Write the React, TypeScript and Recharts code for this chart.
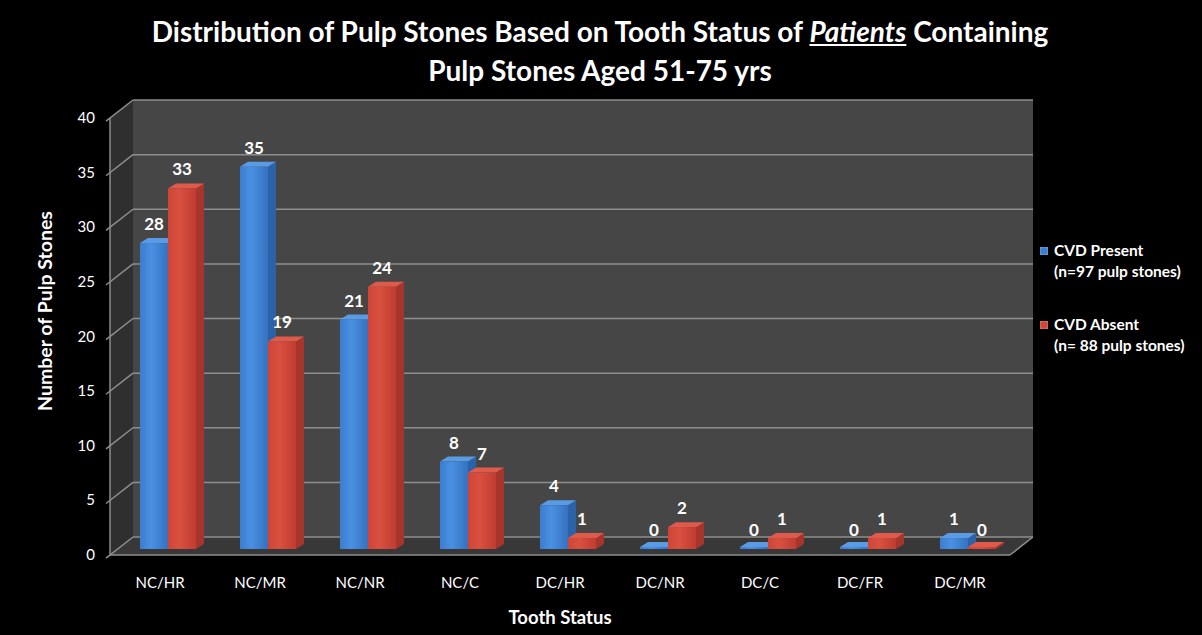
import React from 'react';
import { BarChart, Bar, XAxis, YAxis, CartesianGrid, LabelList, Legend } from 'recharts';

// Tooth status categories and pulp stone counts per group
const categories = ['NC/HR', 'NC/MR', 'NC/NR', 'NC/C', 'DC/HR', 'DC/NR', 'DC/C', 'DC/FR', 'DC/MR'];
const cvdPresent = [28, 35, 21, 8, 4, 0, 0, 0, 1];
const cvdAbsent = [33, 19, 24, 7, 1, 2, 1, 1, 0];
const yTicks = [0, 5, 10, 15, 20, 25, 30, 35, 40];
const seriesKeys = ['present', 'absent'];
const seriesNames = ['CVD Present', 'CVD Absent'];
const seriesNotes = ['(n=97 pulp stones)', '(n= 88 pulp stones)'];

const data = categories.map((status, i) => ({
  status,
  present: cvdPresent[i],
  absent: cvdAbsent[i],
}));

const W = 1202;
const H = 635;
const FONT = 'Lato, "Open Sans", sans-serif';

// plot box (front face of the bars)
const PLOT = { left: 118, right: 1018, top: 112, bottom: 549 };
const Y_AXIS_W = 60;
const X_AXIS_H = 30;
const MARGIN = {
  top: PLOT.top,
  right: W - PLOT.right,
  bottom: H - PLOT.bottom - X_AXIS_H,
  left: PLOT.left - Y_AXIS_W,
};

// pseudo-3D offsets for back wall and front edge
const BACK = { dx: 15, dy: -12 };
const FRONT = { dx: -8, dy: 6 };
const DEPTH = { dx: 8, dy: 5 };

const GRID = '#8e8e8e';

const Walls = () => {
  const bl = PLOT.left + BACK.dx;
  const br = PLOT.right + BACK.dx;
  const bt = PLOT.top + BACK.dy;
  const bb = PLOT.bottom + BACK.dy;
  const fl = PLOT.left + FRONT.dx;
  const fr = PLOT.right + FRONT.dx;
  const ft = PLOT.top + FRONT.dy;
  const fb = PLOT.bottom + FRONT.dy;
  return (
    <g>
      {/* back wall */}
      <rect x={bl} y={bt} width={br - bl} height={bb - bt} fill="#464646" />
      {/* side wall */}
      <polygon points={`${fl},${ft} ${bl},${bt} ${bl},${bb} ${fl},${fb}`} fill="#2f2f2f" />
      {/* floor */}
      <polygon points={`${fl},${fb} ${fr},${fb} ${br},${bb} ${bl},${bb}`} fill="#383838" />
      <line x1={fl} y1={fb} x2={fr} y2={fb} stroke={GRID} strokeWidth={1.5} />
      <line x1={fr} y1={fb} x2={br} y2={bb} stroke={GRID} strokeWidth={1.5} />
      <line x1={fl} y1={ft} x2={fl} y2={fb} stroke={GRID} strokeWidth={1.5} />
    </g>
  );
};

const gridLine = (p: any) => {
  const y = p.y1;
  const kx = (BACK.dy - FRONT.dy) / (BACK.dx - FRONT.dx);
  return (
    <g key={`grid-${p.index}`}>
      {p.index === 0 && <Walls />}
      <line
        x1={PLOT.left + BACK.dx}
        y1={y + BACK.dy}
        x2={PLOT.right + BACK.dx}
        y2={y + BACK.dy}
        stroke={GRID}
        strokeWidth={1.5}
      />
      <line
        x1={PLOT.left + FRONT.dx - 4}
        y1={y + FRONT.dy - 4 * kx}
        x2={PLOT.left + BACK.dx}
        y2={y + BACK.dy}
        stroke={GRID}
        strokeWidth={1.5}
      />
    </g>
  );
};

const makeBarShape = (id: string, light: string, base: string, dark: string, top: string, side: string) => (p: any) => {
  const { x, y, width, height, index } = p;
  const h = Math.max(height, 2);
  const yt = y + height - h;
  const gid = `${id}-${index}`;
  const dx = DEPTH.dx;
  const dy = DEPTH.dy;
  return (
    <g>
      <defs>
        <linearGradient id={gid} x1="0" y1="0" x2="1" y2="0">
          <stop offset="0%" stopColor={base} />
          <stop offset="40%" stopColor={light} />
          <stop offset="100%" stopColor={dark} />
        </linearGradient>
      </defs>
      <polygon
        points={`${x + width},${yt} ${x + width + dx},${yt - dy} ${x + width + dx},${yt + h - dy} ${x + width},${yt + h}`}
        fill={side}
      />
      <polygon
        points={`${x},${yt} ${x + dx},${yt - dy} ${x + width + dx},${yt - dy} ${x + width},${yt}`}
        fill={top}
      />
      <rect x={x} y={yt} width={width} height={h} fill={`url(#${gid})`} />
    </g>
  );
};

const presentShape = makeBarShape('gp', '#4a90e2', '#3b7dd0', '#3572c0', '#5a9be6', '#2c62a8');
const absentShape = makeBarShape('ga', '#d9503f', '#cf4437', '#c03c31', '#e05a4c', '#a7352c');

const valueLabel = (p: any) => {
  const { x, y, width, value } = p;
  return (
    <text
      x={x + width / 2}
      y={y - 13}
      fill="#ffffff"
      fontFamily={FONT}
      fontWeight={700}
      fontSize={17}
      textAnchor="middle"
    >
      {value}
    </text>
  );
};

const yTick = (p: any) => (
  <text
    x={PLOT.left + FRONT.dx - 15}
    y={p.y + FRONT.dy}
    dy={5}
    fill="#ffffff"
    fontFamily={FONT}
    fontSize={15}
    textAnchor="end"
  >
    {p.payload.value}
  </text>
);

const xTick = (p: any) => (
  <text
    x={p.x - 8}
    y={PLOT.bottom + 39}
    fill="#ffffff"
    fontFamily={FONT}
    fontSize={15}
    textAnchor="middle"
  >
    {p.payload.value}
  </text>
);

const xTitle = () => (
  <text
    x={(PLOT.left + PLOT.right) / 2 - 8}
    y={624}
    fill="#ffffff"
    fontFamily={FONT}
    fontWeight={700}
    fontSize={18.5}
    textAnchor="middle"
  >
    Tooth Status
  </text>
);

const yTitle = () => (
  <text
    x={0}
    y={0}
    transform={`translate(52, ${311}) rotate(-90)`}
    fill="#ffffff"
    fontFamily={FONT}
    fontWeight={700}
    fontSize={19.5}
    textAnchor="middle"
  >
    Number of Pulp Stones
  </text>
);

const legendContent = (p: any) => {
  const items = [...(p.payload || [])].sort(
    (a: any, b: any) => seriesKeys.indexOf(a.dataKey) - seriesKeys.indexOf(b.dataKey),
  );
  return (
    <div style={{ fontFamily: FONT, color: '#fff', fontWeight: 700, fontSize: 15.5 }}>
      {items.map((it: any, i: number) => {
        const k = seriesKeys.indexOf(it.dataKey);
        return (
          <div key={i} style={{ marginBottom: i === 0 ? 32 : 0, lineHeight: '21px' }}>
            <div style={{ display: 'flex', alignItems: 'center' }}>
              <span
                style={{
                  display: 'inline-block',
                  width: 8,
                  height: 8,
                  marginRight: 6,
                  background: it.color,
                  boxShadow: 'inset 0 0 2px rgba(255,255,255,0.6)',
                }}
              />
              <span>{seriesNames[k]}</span>
            </div>
            <div style={{ paddingLeft: 14 }}>{seriesNotes[k]}</div>
          </div>
        );
      })}
    </div>
  );
};

export default function App() {
  return (
    <div style={{ position: 'relative', width: W, height: H, background: '#000', overflow: 'hidden' }}>
      <style>{'body{margin:0;background:#000;}'}</style>
      <div
        style={{
          position: 'absolute',
          left: 0,
          top: 12,
          width: W - 2,
          textAlign: 'center',
          color: '#fff',
          fontFamily: FONT,
          fontWeight: 700,
          fontSize: 28,
          lineHeight: '39px',
        }}
      >
        Distribution of Pulp Stones Based on Tooth Status of{' '}
        <em style={{ textDecoration: 'underline' }}>Patients</em> Containing
        <br />
        Pulp Stones Aged 51-75 yrs
      </div>
      <BarChart
        width={W}
        height={H}
        data={data}
        margin={MARGIN}
        barSize={28}
        barGap={0}
        style={{ position: 'absolute', left: 0, top: 0 }}
      >
        <CartesianGrid vertical={false} horizontal={gridLine} />
        <XAxis
          dataKey="status"
          height={X_AXIS_H}
          axisLine={false}
          tickLine={false}
          tick={xTick}
          interval={0}
          label={{ content: xTitle }}
        />
        <YAxis
          width={Y_AXIS_W}
          domain={[0, 40]}
          ticks={yTicks}
          axisLine={false}
          tickLine={false}
          tick={yTick}
          label={{ content: yTitle }}
        />
        <Legend
          layout="horizontal"
          align="center"
          verticalAlign="middle"
          content={legendContent}
          wrapperStyle={{ position: 'absolute', left: 1040, top: 240, width: 162 }}
        />
        <Bar dataKey="present" name={seriesNames[0]} fill="#3b7dd0" shape={presentShape} isAnimationActive={false}>
          <LabelList dataKey="present" content={valueLabel} />
        </Bar>
        <Bar dataKey="absent" name={seriesNames[1]} fill="#cf4437" shape={absentShape} isAnimationActive={false}>
          <LabelList dataKey="absent" content={valueLabel} />
        </Bar>
      </BarChart>
    </div>
  );
}
